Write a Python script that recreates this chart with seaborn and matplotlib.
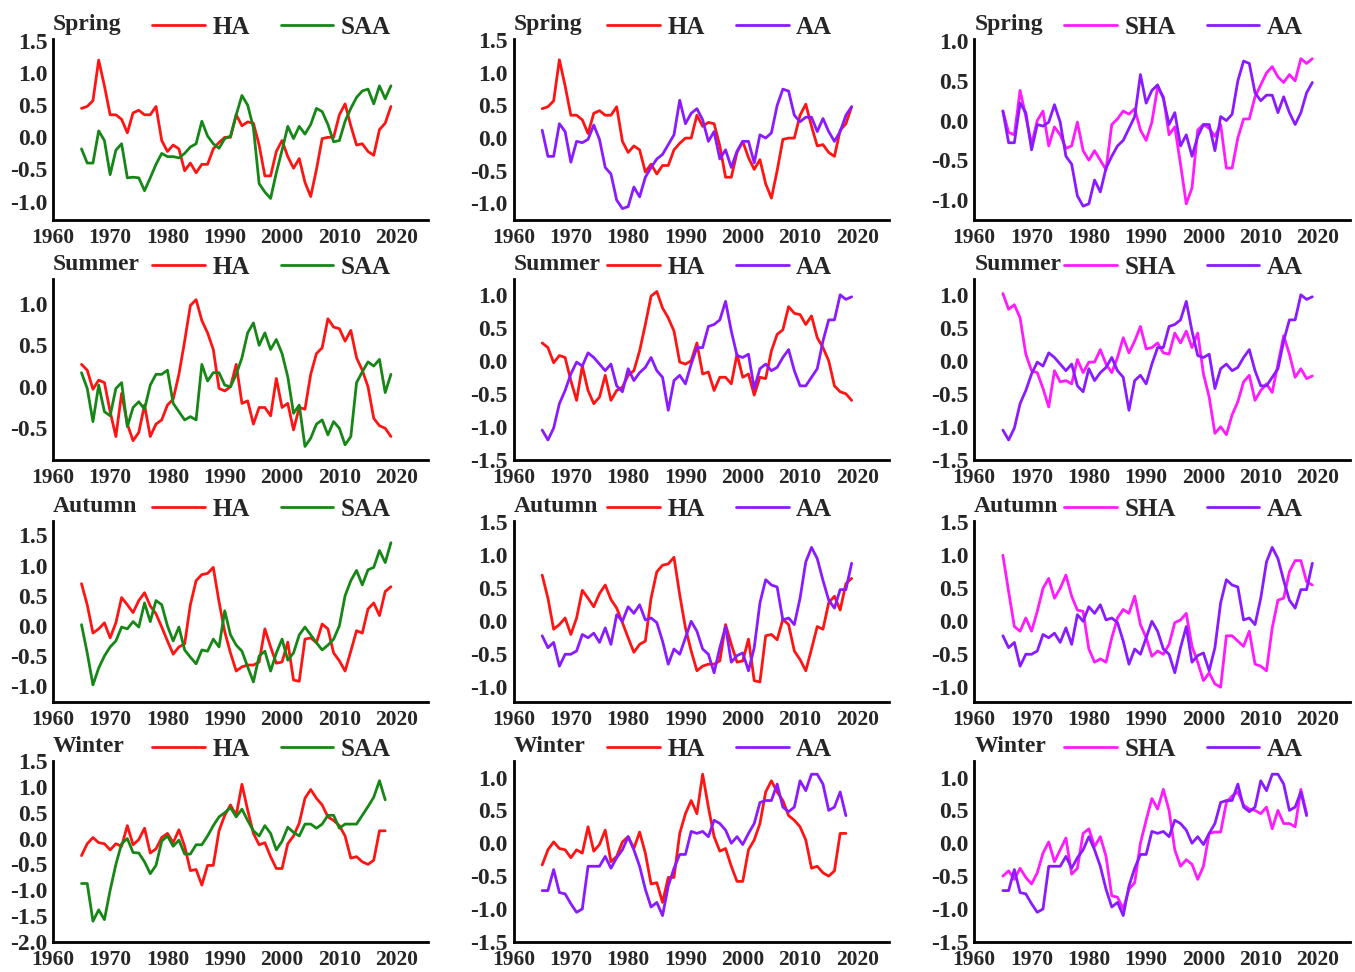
import numpy as np
import pandas as pd
import seaborn as sns
import matplotlib.pyplot as plt

# years: spring/summer/autumn run 1965-2019, winter 1965-2018
years = list(range(1965, 2020))
years_winter = list(range(1965, 2019))

ha_spring = [0.45, 0.48, 0.57, 1.2, 0.8, 0.35, 0.35, 0.28, 0.07, 0.38,
             0.42, 0.35, 0.35, 0.48, -0.05, -0.22, -0.12, -0.18, -0.52, -0.4,
             -0.55, -0.42, -0.42, -0.18, -0.08, 0.0, 0.0, 0.35, 0.18, 0.24,
             0.22, -0.12, -0.6, -0.6, -0.22, -0.05, -0.3, -0.48, -0.33, -0.7,
             -0.92, -0.5, -0.02, 0.0, 0.0, 0.35, 0.52, 0.18, -0.12, -0.1,
             -0.22, -0.28, 0.12, 0.22, 0.48]
saa_spring = [-0.18, -0.4, -0.4, 0.1, -0.05, -0.58, -0.2, -0.1, -0.63, -0.62,
              -0.63, -0.83, -0.63, -0.42, -0.25, -0.3, -0.3, -0.32, -0.25, -0.15,
              -0.1, 0.25, 0.02, -0.1, -0.17, -0.02, 0.02, 0.35, 0.65, 0.5,
              0.15, -0.72, -0.85, -0.95, -0.55, -0.2, 0.17, -0.02, 0.17, 0.05,
              0.2, 0.45, 0.4, 0.2, -0.07, -0.05, 0.25, 0.45, 0.62, 0.72,
              0.75, 0.52, 0.8, 0.6, 0.8]
sha_spring = [0.12, -0.15, -0.18, 0.38, 0.05, -0.3, 0.0, 0.12, -0.32, -0.08,
              -0.18, -0.35, -0.32, -0.02, -0.38, -0.5, -0.38, -0.5, -0.62, -0.05,
              0.02, 0.12, 0.08, 0.15, -0.12, -0.25, -0.02, 0.42, 0.3, -0.18,
              -0.08, -0.55, -1.05, -0.85, -0.12, -0.05, -0.1, -0.2, -0.05, -0.6,
              -0.6, -0.22, 0.02, 0.02, 0.3, 0.45, 0.6, 0.68, 0.55, 0.48,
              0.58, 0.5, 0.78, 0.72, 0.78]
aa_spring = [0.12, -0.28, -0.28, 0.22, 0.1, -0.37, -0.05, -0.07, -0.02, 0.2,
             -0.02, -0.45, -0.55, -0.95, -1.08, -1.05, -0.75, -0.9, -0.6, -0.45,
             -0.32, -0.25, -0.1, 0.05, 0.58, 0.22, 0.38, 0.45, 0.28, -0.05,
             0.1, -0.32, -0.18, -0.45, -0.2, -0.05, -0.05, -0.38, 0.05, 0.0,
             0.08, 0.5, 0.75, 0.72, 0.35, 0.25, 0.32, 0.32, 0.1, 0.3,
             0.1, -0.05, 0.1, 0.35, 0.48]

ha_summer = [0.27, 0.2, -0.03, 0.08, 0.05, -0.3, -0.6, -0.08, -0.45, -0.65,
             -0.55, -0.22, -0.6, -0.45, -0.4, -0.22, -0.15, 0.15, 0.55, 0.98,
             1.05, 0.8, 0.65, 0.45, -0.02, -0.05, 0.0, 0.27, -0.2, -0.17,
             -0.45, -0.25, -0.25, -0.35, 0.1, -0.25, -0.2, -0.52, -0.25, -0.27,
             0.15, 0.4, 0.47, 0.82, 0.72, 0.7, 0.55, 0.68, 0.35, 0.2,
             0.0, -0.38, -0.47, -0.5, -0.6]
saa_summer = [0.17, -0.02, -0.42, 0.02, -0.3, -0.35, -0.02, 0.05, -0.48, -0.25,
              -0.18, -0.27, 0.02, 0.15, 0.15, 0.2, -0.2, -0.3, -0.4, -0.36,
              -0.4, 0.27, 0.07, 0.17, 0.17, 0.02, 0.0, 0.15, 0.35, 0.65,
              0.77, 0.5, 0.65, 0.45, 0.57, 0.4, 0.12, -0.32, -0.22, -0.72,
              -0.62, -0.45, -0.4, -0.58, -0.42, -0.5, -0.7, -0.6, 0.05, 0.18,
              0.3, 0.25, 0.33, -0.07, 0.15]
sha_summer = [1.02, 0.78, 0.85, 0.65, 0.1, -0.15, -0.18, -0.42, -0.7, -0.15,
              -0.32, -0.3, -0.35, 0.02, -0.18, -0.02, -0.02, 0.17, -0.05, -0.18,
              0.05, 0.35, 0.12, 0.3, 0.52, 0.18, 0.2, 0.27, 0.12, 0.1,
              0.42, 0.27, 0.45, 0.2, 0.42, -0.2, -0.55, -1.1, -1.0, -1.12,
              -0.82, -0.62, -0.32, -0.22, -0.6, -0.45, -0.35, -0.48, -0.05, 0.38,
              0.1, -0.25, -0.12, -0.27, -0.23]
aa_summer = [-1.05, -1.2, -1.02, -0.65, -0.45, -0.2, -0.02, -0.08, 0.12, 0.05,
             -0.05, -0.15, -0.05, -0.38, -0.47, -0.12, -0.3, -0.18, -0.1, 0.05,
             -0.15, -0.25, -0.75, -0.3, -0.22, -0.35, -0.05, 0.2, 0.2, 0.52,
             0.55, 0.62, 0.9, 0.45, 0.08, 0.05, 0.1, -0.42, -0.12, -0.05,
             -0.15, -0.1, 0.05, 0.17, -0.15, -0.38, -0.38, -0.25, -0.12, 0.3,
             0.62, 0.62, 1.0, 0.93, 0.97]

ha_autumn = [0.7, 0.35, -0.12, -0.05, 0.05, -0.2, 0.05, 0.47, 0.35, 0.22,
             0.42, 0.55, 0.33, 0.2, -0.02, -0.25, -0.47, -0.35, -0.3, 0.35,
             0.75, 0.85, 0.87, 0.97, 0.4, -0.1, -0.45, -0.75, -0.68, -0.65,
             -0.65, -0.6, -0.05, -0.35, -0.62, -0.6, -0.27, -0.9, -0.92, -0.22,
             -0.2, -0.28, 0.03, -0.05, -0.45, -0.58, -0.75, -0.42, -0.08, -0.12,
             0.28, 0.38, 0.17, 0.57, 0.65]
saa_autumn = [0.02, -0.45, -0.98, -0.7, -0.5, -0.35, -0.25, -0.02, -0.05, 0.07,
              -0.02, 0.38, 0.07, 0.42, 0.35, 0.0, -0.25, -0.02, -0.4, -0.52,
              -0.63, -0.4, -0.42, -0.22, -0.35, 0.25, -0.15, -0.32, -0.42, -0.68,
              -0.93, -0.5, -0.42, -0.75, -0.45, -0.22, -0.57, -0.45, -0.15, -0.02,
              -0.15, -0.28, -0.4, -0.32, -0.22, 0.0, 0.5, 0.75, 0.92, 0.68,
              0.93, 0.97, 1.25, 1.05, 1.38]
sha_autumn = [1.0, 0.45, -0.08, -0.15, 0.05, -0.15, 0.15, 0.5, 0.65, 0.35,
              0.5, 0.7, 0.38, 0.17, 0.15, -0.42, -0.62, -0.57, -0.62, -0.25,
              0.05, 0.18, 0.12, 0.38, -0.05, -0.25, -0.53, -0.45, -0.5, -0.35,
              -0.02, 0.02, 0.12, -0.38, -0.62, -0.9, -0.78, -0.95, -1.0, -0.22,
              -0.22, -0.3, -0.38, -0.15, -0.65, -0.68, -0.75, -0.1, 0.32, 0.35,
              0.75, 0.92, 0.92, 0.6, 0.55]
aa_autumn = [-0.22, -0.4, -0.32, -0.68, -0.5, -0.5, -0.45, -0.2, -0.25, -0.18,
             -0.32, -0.1, -0.35, 0.1, 0.0, 0.22, 0.12, 0.25, 0.02, 0.05,
             -0.02, -0.3, -0.65, -0.42, -0.5, -0.25, 0.0, -0.15, -0.42, -0.5,
             -0.78, -0.4, -0.08, -0.62, -0.52, -0.48, -0.75, -0.4, 0.28, 0.63,
             0.55, 0.52, 0.02, 0.05, -0.05, 0.35, 0.9, 1.12, 0.95, 0.62,
             0.32, 0.2, 0.48, 0.48, 0.88]

ha_winter = [-0.33, -0.1, 0.02, -0.08, -0.1, -0.22, -0.1, -0.15, 0.25, -0.12,
             -0.02, 0.2, -0.28, -0.2, 0.02, 0.1, -0.08, 0.17, -0.15, -0.62,
             -0.6, -0.9, -0.52, -0.52, 0.15, 0.45, 0.65, 0.45, 1.05, 0.55,
             0.1, -0.12, -0.08, -0.35, -0.58, -0.58, -0.1, 0.05, 0.3, 0.78,
             0.95, 0.78, 0.65, 0.42, 0.35, 0.25, 0.05, -0.38, -0.35, -0.45,
             -0.5, -0.42, 0.15, 0.15]
saa_winter = [-0.87, -0.87, -1.6, -1.38, -1.57, -1.0, -0.5, -0.1, 0.0, -0.27,
              -0.28, -0.45, -0.68, -0.52, -0.05, 0.05, -0.15, -0.03, -0.3, -0.3,
              -0.12, -0.12, 0.05, 0.25, 0.42, 0.5, 0.6, 0.42, 0.57, 0.35,
              0.15, 0.05, 0.25, 0.1, -0.22, -0.05, 0.22, 0.12, 0.05, 0.28,
              0.28, 0.2, 0.28, 0.45, 0.45, 0.2, 0.28, 0.28, 0.28, 0.45,
              0.62, 0.8, 1.12, 0.75]
sha_winter = [-0.5, -0.42, -0.55, -0.38, -0.52, -0.62, -0.45, -0.15, 0.02, -0.28,
              -0.1, 0.08, -0.47, -0.38, 0.15, 0.22, -0.05, 0.1, -0.2, -0.8,
              -0.82, -1.0, -0.7, -0.6, 0.0, 0.35, 0.68, 0.52, 0.82, 0.5,
              -0.1, -0.35, -0.25, -0.32, -0.55, -0.35, 0.15, 0.17, 0.17, 0.62,
              0.72, 0.78, 0.58, 0.52, 0.5, 0.45, 0.55, 0.22, 0.5, 0.3,
              0.3, 0.25, 0.82, 0.45]
aa_winter = [-0.72, -0.72, -0.4, -0.75, -0.77, -0.92, -1.05, -1.0, -0.35, -0.35,
             -0.35, -0.2, -0.38, -0.22, -0.1, 0.1, -0.1, -0.35, -0.7, -0.97,
             -0.9, -1.1, -0.65, -0.38, -0.17, -0.17, 0.18, 0.15, 0.18, 0.1,
             0.35, 0.3, 0.2, 0.0, 0.1, -0.02, 0.15, 0.3, 0.62, 0.65,
             0.65, 0.9, 0.55, 0.48, 0.55, 0.95, 0.8, 1.05, 1.05, 0.9,
             0.5, 0.55, 0.78, 0.42]

seasons = ['Spring', 'Summer', 'Autumn', 'Winter']
season_years = [years, years, years, years_winter]
pairs = [('HA', 'SAA'), ('HA', 'AA'), ('SHA', 'AA')]
series = {
    'Spring': {'HA': ha_spring, 'SAA': saa_spring, 'SHA': sha_spring, 'AA': aa_spring},
    'Summer': {'HA': ha_summer, 'SAA': saa_summer, 'SHA': sha_summer, 'AA': aa_summer},
    'Autumn': {'HA': ha_autumn, 'SAA': saa_autumn, 'SHA': sha_autumn, 'AA': aa_autumn},
    'Winter': {'HA': ha_winter, 'SAA': saa_winter, 'SHA': sha_winter, 'AA': aa_winter},
}
colors = {'HA': '#ff1414', 'SAA': '#168716', 'SHA': '#ff1aff', 'AA': '#8a1aff'}

# axis limits and tick range per panel (row, col)
ylims = [[(-1.28, 1.53), (-1.25, 1.52), (-1.25, 1.03)],
         [(-0.88, 1.30), (-1.5, 1.24), (-1.5, 1.24)],
         [(-1.26, 1.74), (-1.22, 1.52), (-1.22, 1.52)],
         [(-2.0, 1.5), (-1.5, 1.25), (-1.5, 1.25)]]
ytick_range = [[(-1.0, 1.5), (-1.0, 1.5), (-1.0, 1.0)],
               [(-0.5, 1.0), (-1.5, 1.0), (-1.5, 1.0)],
               [(-1.0, 1.5), (-1.0, 1.5), (-1.0, 1.5)],
               [(-2.0, 1.5), (-1.5, 1.0), (-1.5, 1.0)]]

sns.set_style('white')
plt.rcParams['font.family'] = ['Liberation Serif', 'DejaVu Serif']
plt.rcParams['font.weight'] = 'bold'

fig = plt.figure(figsize=(13.55, 9.72), dpi=100)
lefts = [0.039, 0.379, 0.719]
bottoms = [0.774, 0.527, 0.278, 0.031]
legend_x = [0.265, 0.25, 0.24]

for r, season in enumerate(seasons):
    yrs = season_years[r]
    for c, (a, b) in enumerate(pairs):
        ax = fig.add_axes([lefts[c], bottoms[r], 0.277, 0.186])
        df = pd.DataFrame({
            'year': yrs + yrs,
            'value': series[season][a] + series[season][b],
            'index': [a] * len(yrs) + [b] * len(yrs),
        })
        sns.lineplot(data=df, x='year', y='value', hue='index', hue_order=[a, b],
                     palette=colors, linewidth=2.0, ax=ax)
        ax.set_xlim(1960, 2025.5)
        ax.set_ylim(*ylims[r][c])
        lo, hi = ytick_range[r][c]
        ticks = np.arange(lo, hi + 0.01, 0.5)
        ax.set_yticks(ticks)
        ax.set_yticklabels([f'{v:.1f}' for v in ticks])
        ax.set_xticks(range(1960, 2021, 10))
        ax.set_xlabel('')
        ax.set_ylabel('')
        for side in ['top', 'right']:
            ax.spines[side].set_visible(False)
        for side in ['left', 'bottom']:
            ax.spines[side].set_linewidth(2)
            ax.spines[side].set_color('black')
        ax.tick_params(direction='out', length=3, width=1.5, pad=1)
        ax.tick_params(axis='x', labelsize=15.5, pad=3)
        ax.tick_params(axis='y', labelsize=17)
        for lab in ax.get_xticklabels() + ax.get_yticklabels():
            lab.set_fontweight('bold')
        handles, labels = ax.get_legend_handles_labels()
        ax.legend(handles, labels, ncol=2, loc='center left',
                  bbox_to_anchor=(legend_x[c], 1.065), frameon=False, borderpad=0,
                  borderaxespad=0, handlelength=2.1, handletextpad=0.3,
                  columnspacing=1.25, prop={'size': 18, 'weight': 'bold'})
        ax.text(0.0, 1.08, season, transform=ax.transAxes, fontsize=17,
                fontweight='bold', va='center', ha='left')

fig.savefig('out.png', dpi=100)
